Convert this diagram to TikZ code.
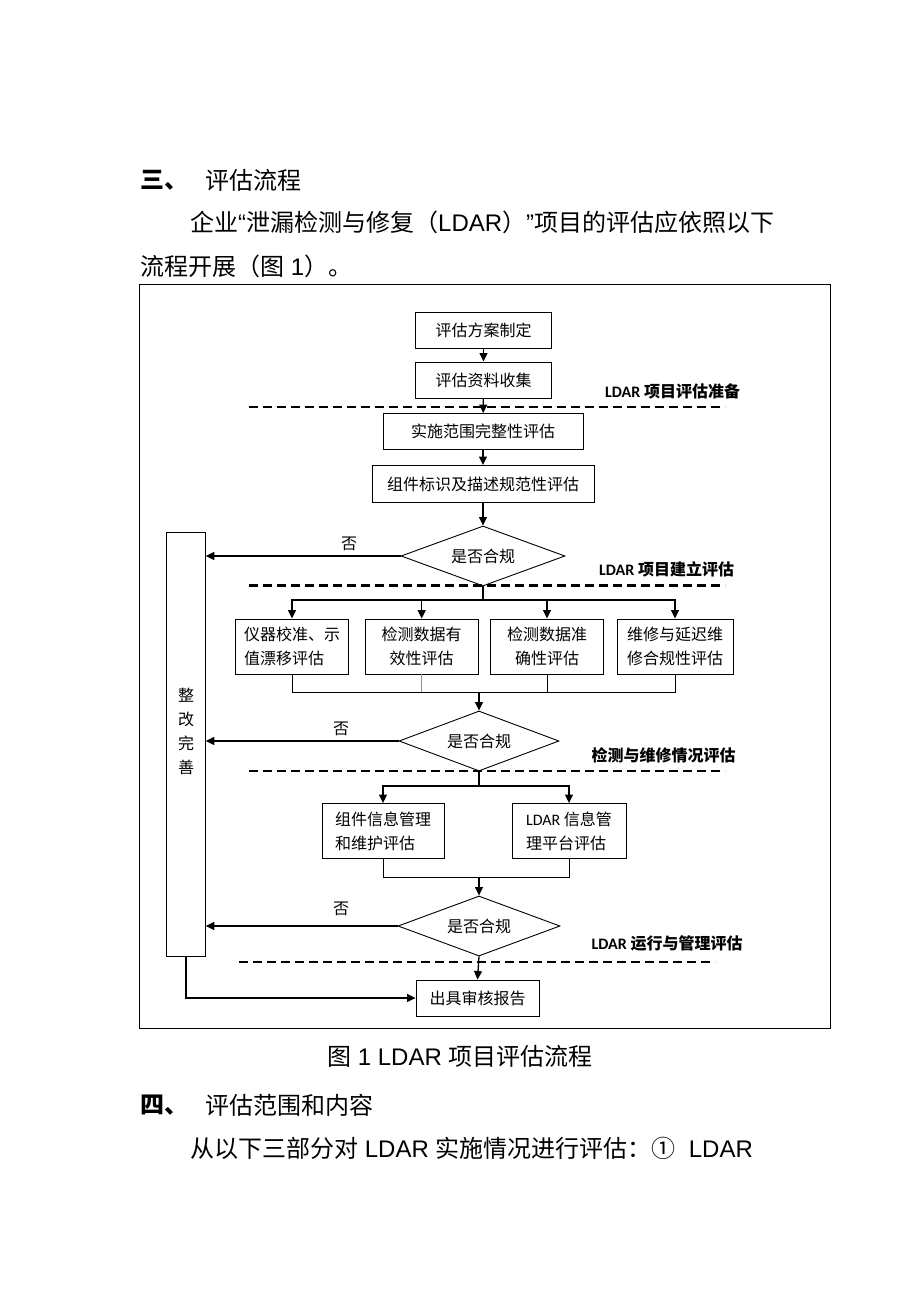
\documentclass[tikz,border=0pt]{standalone}
\usepackage{fontspec}
\setmainfont{Noto Sans CJK SC}
\newfontfamily\arl{Liberation Sans}
\newfontfamily\clb{Carlito}
\usetikzlibrary{shapes.geometric,arrows.meta}
\definecolor{stubblue}{RGB}{91,155,213}
\newcommand{\ldar}{{\clb LDAR}}

\begin{document}
\begin{tikzpicture}[x=1pt,y=-1pt]
\tikzstyle{proc}=[rectangle, draw=black, line width=0.9pt, minimum height=36pt, inner sep=2pt, align=center, font=\fontsize{16pt}{24pt}\selectfont]
\tikzstyle{check}=[diamond, aspect=2.7, draw=black, line width=0.9pt, minimum width=162pt, minimum height=60pt, inner sep=0pt, font=\fontsize{16pt}{24pt}\selectfont]
\tikzstyle{stage}=[anchor=west, inner sep=0pt, font=\bfseries\fontsize{16pt}{20pt}\selectfont]
\tikzstyle{para}=[anchor=west, inner sep=0pt, font=\fontsize{24pt}{28pt}\selectfont]
\tikzstyle{answer}=[inner sep=0pt, font=\fontsize{16pt}{20pt}\selectfont]
\tikzstyle{sep}=[line width=2.2pt, dash pattern=on 8.5pt off 5.5pt]
\tikzstyle{connect}=[-{Triangle[length=8.5pt,width=8pt]}, line width=1.3pt]
\tikzstyle{link}=[line width=1pt]

\path[use as bounding box, fill=white] (0,0) rectangle (920,1302);

% page text
\node[para, font=\bfseries\fontsize{24pt}{28pt}\selectfont] (h_1) at (140,180) {三、};
\node[para] (h_1t) at (205,180) {评估流程};
\node[para] (p_1) at (190,222) {企业{\arl “}泄漏检测与修复（{\arl LDAR}）{\arl ”}项目的评估应依照以下};
\node[para] (p_2) at (140,266) {流程开展（图{\arl\ 1}）。};
\node[para] (cap) at (327,1056) {图{\arl\ 1 LDAR }项目评估流程};
\node[para, font=\bfseries\fontsize{24pt}{28pt}\selectfont] (h_2) at (140,1105) {四、};
\node[para] (h_2t) at (205,1105) {评估范围和内容};
\node[para] (p_3) at (190,1148) {从以下三部分对{\arl\ LDAR }实施情况进行评估：①{\arl\ \ LDAR}};

% frame
\draw[line width=1pt] (139.5,284.5) rectangle (830.5,1028.5);

% steps
\node[proc, minimum width=136pt] (s_1) at (483.5,330) {评估方案制定};
\node[proc, minimum width=136pt] (s_2) at (483.5,380) {评估资料收集};
\node[proc, minimum width=200pt] (s_3) at (483,431.5) {实施范围完整性评估};
\node[proc, minimum width=222pt, minimum height=37pt] (s_4) at (483,484) {组件标识及描述规范性评估};
\node[check, minimum width=164pt] (d_1) at (483,556) {是否合规};

\node[proc, minimum width=113pt, minimum height=55pt, align=left] (b_1) at (292,646.5) {仪器校准、示\\值漂移评估};
\node[proc, minimum width=113pt, minimum height=55pt] (b_2) at (421.7,646.5) {检测数据有\\效性评估};
\node[proc, minimum width=113pt, minimum height=55pt] (b_3) at (547,646.5) {检测数据准\\确性评估};
\node[proc, minimum width=116pt, minimum height=55pt] (b_4) at (675,646.5) {维修与延迟维\\修合规性评估};
\node[check, minimum width=160pt] (d_2) at (479,741) {是否合规};

\node[proc, minimum width=122pt, minimum height=55pt, align=left] (c_1) at (383,831) {组件信息管理\\和维护评估};
\node[proc, minimum width=114pt, minimum height=55pt, align=left] (c_2) at (569,831) {\ldar{} 信息管\\理平台评估};
\node[check] (d_3) at (479,926) {是否合规};

\node[proc, minimum width=123pt] (r_1) at (477.5,998) {出具审核报告};
\node[proc, minimum width=38.6pt, minimum height=424pt,
  label={[font=\fontsize{16pt}{24pt}\selectfont, align=center, yshift=12.5pt]center:{整\\改\\完\\善}}] (z_1) at (186,744) {};

% stage labels
\node[stage] (l_1) at (605,391) {{\clb LDAR} 项目评估准备};
\node[stage] (l_2) at (599,569) {{\clb LDAR} 项目建立评估};
\node[stage] (l_3) at (591.5,755) {检测与维修情况评估};
\node[stage] (l_4) at (591.5,943) {{\clb LDAR} 运行与管理评估};

\draw[sep] (249,407) -- (725,407);
\draw[sep] (249,585.5) -- (725,585.5);
\draw[sep] (249,771) -- (725,771);
\draw[sep] (239,962) -- (715,962);

% answers
\node[answer] (n_1) at (349,544) {否};
\node[answer] (n_2) at (341,729) {否};
\node[answer] (n_3) at (341,909) {否};

\coordinate (br_1) at (483,600);
\coordinate (mg_1) at (479,692);
\coordinate (br_2) at (479,786);
\coordinate (mg_2) at (479,877);

\path[connect]
	(s_1) edge (s_2)
	(s_2) edge (s_3)
	(s_3) edge (s_4)
	(s_4) edge (d_1);
\draw[connect] (d_1.west) -- (d_1.west -| z_1.east);
\draw[connect] (d_2.west) -- (d_2.west -| z_1.east);
\draw[connect] (d_3.west) -- (d_3.west -| z_1.east);

\draw[connect] (d_1.south) -- (br_1) -| (b_1.north);
\draw[connect] (br_1) -| (b_2.north);
\draw[connect] (br_1) -| (b_3.north);
\draw[connect] (br_1) -| (b_4.north);
\draw[link] (b_1.south) |- (mg_1);
\draw[link] (b_4.south) |- (mg_1);
\draw[link] (b_3.south) -- (b_3.south |- mg_1);
\draw[link, stubblue] (b_2.south) -- (b_2.south |- mg_1);
\draw[connect] (mg_1) -- (d_2.north);

\draw[connect] (d_2.south) -- (br_2) -| (c_1.north);
\draw[connect] (br_2) -| (c_2.north);
\draw[link] (c_1.south) |- (mg_2);
\draw[link] (c_2.south) |- (mg_2);
\draw[connect] (mg_2) -- (d_3.north);
\draw[connect] (d_3.south) -- (r_1.north);
\draw[connect] (z_1.south) |- (r_1.west);
\end{tikzpicture}
\end{document}
